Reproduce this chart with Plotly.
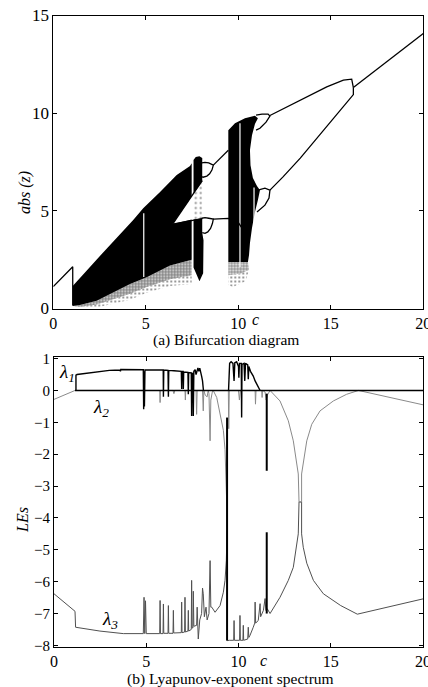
import plotly.graph_objects as go

# ---------------- Panel (a): bifurcation diagram ----------------
# initial period-1 branch and drop
init_c = [0.0, 1.05, 1.05]
init_y = [1.12, 2.14, 0.15]

# dense chaotic band 1 (outline)
chaos1_c = [1.05, 1.05, 2.52, 4.32, 4.86, 5.77, 6.67, 7.39, 7.48, 7.48, 6.45, 7.48, 7.48, 6.31, 5.05, 4.15, 2.35, 1.44, 1.05]
chaos1_y = [0.13, 1.15, 2.69, 4.53, 5.13, 5.97, 6.83, 7.30, 7.43, 5.73, 4.32, 4.55, 2.50, 2.20, 1.60, 1.25, 0.40, 0.18, 0.13]
strip_up_c = [7.58, 7.58, 7.70, 7.90, 8.05, 8.05]
strip_up_y = [5.87, 7.60, 7.75, 7.80, 7.70, 6.52]
strip_lo_c = [7.58, 8.05, 8.05, 8.12, 8.10, 7.90, 7.58]
strip_lo_y = [4.55, 4.62, 3.88, 3.50, 1.80, 1.40, 2.10]

# dense chaotic band 2 (outline)
chaos2_c = [9.46, 9.46, 9.82, 10.36, 10.90, 11.06, 10.90, 10.74, 10.63, 10.66, 10.79, 11.01, 11.17, 11.06, 10.90, 10.74, 10.63, 10.58, 10.52]
chaos2_y = [2.38, 9.13, 9.49, 9.74, 9.87, 9.74, 9.44, 8.87, 8.11, 7.34, 6.68, 6.27, 6.06, 5.55, 4.94, 4.12, 3.35, 2.74, 2.38]

# speckled fringes: inner (dense) and outer (sparse)
inner1_c = [1.05, 1.44, 2.35, 4.15, 5.05, 6.31, 7.48, 7.48, 6.31, 5.05, 4.15, 2.35, 1.44]
inner1_y = [0.13, 0.18, 0.40, 1.25, 1.60, 2.20, 2.50, 1.70, 1.50, 1.10, 0.75, 0.20, 0.08]
outer1_c = [1.44, 2.35, 4.15, 5.05, 6.31, 7.48, 7.48, 6.31, 5.05, 4.15, 2.35, 1.44]
outer1_y = [0.08, 0.20, 0.75, 1.10, 1.50, 1.70, 1.25, 1.15, 0.80, 0.45, 0.05, 0.02]
wedge_c = [7.58, 8.05, 8.05, 7.58]
wedge_y = [4.55, 4.62, 6.52, 5.87]
inner2_c = [9.46, 10.52, 10.58, 10.20, 9.46]
inner2_y = [2.38, 2.38, 2.00, 1.80, 1.70]
outer2_c = [9.46, 10.20, 10.58, 10.40, 9.70, 9.46]
outer2_y = [1.70, 1.80, 2.00, 1.40, 1.10, 1.20]

# periodic branches (segments separated by None)
branch_c = [6.45, 8.05, None,
            6.45, 8.05, None,
            8.02, 8.20, 8.40, 8.55, 8.65, 8.58, 8.45, 8.30, 8.10, 8.02, None,
            8.02, 8.20, 8.40, 8.55, 8.65, 8.60, 8.50, 8.35, 8.20, 8.05, None,
            8.65, 9.46, None,
            8.65, 9.46, 10.00, 10.54, None,
            10.96, 11.28, 11.61, 11.71, 11.50, 11.17, 10.96, None,
            11.06, 11.44, 11.71, 11.66, 11.44, 11.17, 11.01, None,
            11.71, 13.35, 14.78, 15.68, 16.13, 16.22, None,
            11.71, 12.43, 13.35, 14.24, 15.14, 15.86, 16.22, 16.22, None,
            16.22, 20.00]
branch_y = [4.32, 6.55, None,
            4.32, 4.60, None,
            7.45, 7.48, 7.45, 7.38, 7.34, 7.10, 6.90, 6.78, 6.72, 6.75, None,
            4.62, 4.65, 4.62, 4.60, 4.58, 4.35, 4.10, 3.92, 3.85, 3.88, None,
            7.34, 8.10, None,
            4.58, 4.61, 4.40, 3.64, None,
            9.90, 9.95, 9.95, 9.85, 9.54, 9.23, 9.13, None,
            6.06, 6.16, 6.06, 5.65, 5.29, 5.04, 4.94, None,
            9.88, 10.66, 11.35, 11.69, 11.74, 11.31, None,
            6.06, 6.75, 7.70, 8.70, 9.75, 10.50, 10.95, 11.31, None,
            11.31, 14.08]

# white gaps inside the chaotic bands
gap_c = [4.89, 10.09, 10.85]
gap_lo = [1.61, 2.12, 4.17]
gap_hi = [4.88, 9.48, 6.20]

# ---------------- Panel (b): Lyapunov exponents ----------------
zero_c = [1.14, 20.0]
zero_v = [0.0, 0.0]

l1_c = [1.19, 1.19, 1.25, 1.77, 2.49, 3.0, 3.58, 3.60, 3.62, 4.2, 4.84, 4.86, 4.88, 4.90, 4.93, 5.5, 5.92, 5.93, 5.95,
        6.18, 6.20, 6.22, 6.5, 6.9, 6.92, 6.94, 7.0, 7.01, 7.03, 7.26, 7.28, 7.30, 7.44, 7.46, 7.48, 7.53, 7.55, 7.58,
        7.65, 7.70, 7.80, 7.85, 7.90, 8.0, 8.05, 8.10, None,
        9.46, 9.48, 9.52, 9.6, 9.7, 9.76, 9.8, 9.9, 10.0, 10.02, 10.05, 10.15, 10.17, 10.19, 10.3, 10.34, 10.38,
        10.5, 10.53, 10.56, 10.65, 10.8, 10.9, 11.0, 11.17]
l1_v = [0.0, 0.48, 0.50, 0.54, 0.60, 0.63, 0.64, 0.60, 0.66, 0.65, 0.65, -0.59, 0.60, -0.50, 0.64, 0.64, 0.64, -0.20, 0.64,
        0.63, -0.20, 0.63, 0.62, 0.60, 0.05, 0.60, 0.60, 0.05, 0.58, 0.57, -0.12, 0.56, 0.55, -0.80, 0.50, 0.55, -0.80, 0.60,
        0.65, 0.50, 0.71, 0.60, 0.70, 0.45, 0.30, 0.0, None,
        0.0, 0.50, 0.85, 0.90, 0.85, 0.30, 0.87, 0.90, 0.75, 0.40, 0.85, 0.85, -0.85, 0.82, 0.85, 0.30, 0.85,
        0.80, 0.35, 0.75, 0.60, 0.45, 0.30, 0.20, 0.0]

l2_c = [0.0, 1.14, 4.85, 4.88, 4.91, 5.73, 5.75, 5.77, 6.45, 6.50, 6.55, 7.10, 7.12, 7.14, 7.70, 7.73, 7.76,
        8.05, 8.09, 8.12, 8.20, 8.30, 8.36, 8.40, 8.46, 8.50, 8.58, 8.63, 8.82, 9.0, 9.18, 9.27, 9.32, 9.36, 9.38, None,
        9.45, 9.47, 9.50, 10.0, 10.05, 10.1, 10.9, 10.92, 10.95, 11.26, 11.28, 11.30, 11.44, 11.50, 11.56, 11.71,
        12.25, 12.7, 12.97, 13.15, 13.24, 13.28, 13.42, 13.42, 13.51, 13.7, 13.97, 14.42, 15.14, 15.86, 16.5, 20.0]
l2_v = [-0.28, 0.0, 0.0, -0.45, 0.0, 0.0, -0.38, 0.0, 0.0, -0.10, 0.0, 0.0, -0.30, 0.0, 0.0, -0.75, 0.0,
        0.0, -0.64, 0.0, -0.15, -0.20, 0.0, -0.10, -1.58, -0.30, -0.05, 0.0, -0.22, -0.70, -1.25, -1.85, -2.5, -3.5, -4.4, None,
        0.0, -1.20, 0.0, 0.0, -0.30, 0.0, 0.0, -0.43, 0.0, 0.0, -0.22, 0.0, -0.05, -0.30, -0.15, 0.0,
        -0.33, -0.95, -1.58, -2.31, -2.62, -3.5, -3.5, -2.62, -2.31, -1.58, -1.06, -0.64, -0.33, -0.12, 0.0, -0.45]

l3_c = [0.0, 1.14, 1.17, 2.49, 3.76, 4.84, 4.88, 4.92, 4.96, 5.0, 5.73, 5.75, 5.77, 5.91, 5.93, 5.95, 6.18, 6.20, 6.22,
        6.45, 6.47, 6.49, 6.9, 6.92, 6.94, 7.08, 7.10, 7.12, 7.26, 7.28, 7.30, 7.44, 7.46, 7.48, 7.53, 7.55, 7.58, 7.73,
        7.76, 7.80, 7.82, 7.90, 8.0, 8.05, 8.09, 8.15, 8.24, 8.30, 8.40, 8.46, 8.50, 8.55, 8.73, 9.0, 9.18, 9.27, 9.34, 9.38, None,
        9.40, 9.5, 9.74, 9.76, 9.78, 10.06, 10.08, 10.1, 10.24, 10.26, 10.28, 10.5, 10.53, 10.56, 10.62, 10.8, 10.88, 10.9,
        10.93, 11.07, 11.17, 11.2, 11.35, 11.44, 11.48, 11.56, 11.71, 12.25, 12.7, 12.97, 13.15, 13.24, 13.28, 13.42, 13.42,
        13.51, 13.7, 14.06, 14.6, 15.54, 16.44, 20.0]
l3_v = [-6.38, -6.93, -7.43, -7.55, -7.63, -7.63, -6.49, -7.63, -6.60, -7.63, -7.63, -6.59, -7.63, -7.63, -6.70, -7.62, -7.62, -6.75, -7.62,
        -7.62, -6.90, -7.61, -7.60, -6.64, -7.60, -7.58, -6.49, -7.58, -7.55, -6.90, -7.55, -7.50, -5.96, -7.45, -7.45, -6.30, -7.40, -7.37,
        -6.80, -7.30, -7.80, -7.20, -7.00, -6.20, -6.38, -7.10, -6.80, -7.20, -7.00, -5.34, -6.80, -6.80, -6.96, -6.75, -6.33, -5.96, -5.34, -4.4, None,
        -7.85, -7.84, -7.84, -7.22, -7.84, -7.84, -7.06, -7.84, -7.84, -7.37, -7.84, -7.80, -7.43, -7.75, -7.69, -7.43, -7.30, -6.64,
        -7.30, -7.22, -6.69, -7.10, -6.90, -6.53, -6.90, -6.85, -7.00, -6.49, -5.96, -5.55, -4.92, -4.50, -3.5, -3.5, -4.50,
        -4.92, -5.42, -5.96, -6.38, -6.75, -7.02, -6.54]

# near-vertical plunges (superstable points)
plunge_c = [9.38, 11.53, 11.53]
plunge_lo = [-7.85, -2.52, -7.00]
plunge_hi = [-0.85, -0.10, -4.45]

# tick labels
x_ticks = [0, 5, 10, 15, 20]
ya_ticks = [0, 5, 10, 15]
yb_ticks = [1, 0, -1, -2, -3, -4, -5, -6, -7, -8]

FONT = "Liberation Serif, Times New Roman, serif"

fig = go.Figure()

def poly(cs, ys, xa, ya, pattern=None):
    kw = dict(x=cs, y=ys, xaxis=xa, yaxis=ya, fill="toself", mode="none",
              showlegend=False, hoverinfo="skip")
    if pattern is None:
        kw["fillcolor"] = "black"
    else:
        kw["fillcolor"] = "rgba(0,0,0,0)"
        kw["fillpattern"] = dict(shape=".", fgcolor="black", bgcolor="rgba(0,0,0,0)",
                                 size=pattern[0], solidity=pattern[1])
    fig.add_trace(go.Scatter(**kw))

# speckle regions
poly(outer1_c, outer1_y, "x", "y", pattern=(4, 0.22))
poly(inner1_c, inner1_y, "x", "y", pattern=(3, 0.7))
poly(wedge_c, wedge_y, "x", "y", pattern=(5, 0.15))
poly(outer2_c, outer2_y, "x", "y", pattern=(4, 0.22))
poly(inner2_c, inner2_y, "x", "y", pattern=(3, 0.6))
# dense regions
poly(chaos1_c, chaos1_y, "x", "y")
poly(strip_up_c, strip_up_y, "x", "y")
poly(strip_lo_c, strip_lo_y, "x", "y")
poly(chaos2_c, chaos2_y, "x", "y")

# white gaps
gx, gy = [], []
for c, lo, hi in zip(gap_c, gap_lo, gap_hi):
    gx += [c, c, None]
    gy += [lo, hi, None]
fig.add_trace(go.Scatter(x=gx, y=gy, xaxis="x", yaxis="y", mode="lines",
                         line=dict(color="white", width=1.2), showlegend=False, hoverinfo="skip"))

# branches
fig.add_trace(go.Scatter(x=init_c, y=init_y, xaxis="x", yaxis="y", mode="lines",
                         line=dict(color="black", width=1.3), showlegend=False))
fig.add_trace(go.Scatter(x=branch_c, y=branch_y, xaxis="x", yaxis="y", mode="lines",
                         line=dict(color="black", width=1.3), showlegend=False))

# ---- panel b traces
fig.add_trace(go.Scatter(x=l3_c, y=l3_v, xaxis="x2", yaxis="y2", mode="lines",
                         line=dict(color="#505050", width=1), showlegend=False, name="λ3"))
fig.add_trace(go.Scatter(x=l2_c, y=l2_v, xaxis="x2", yaxis="y2", mode="lines",
                         line=dict(color="#8a8a8a", width=1), showlegend=False, name="λ2"))
px_, py_ = [], []
for c, lo, hi in zip(plunge_c, plunge_lo, plunge_hi):
    px_ += [c, c, None]
    py_ += [lo, hi, None]
fig.add_trace(go.Scatter(x=px_, y=py_, xaxis="x2", yaxis="y2", mode="lines",
                         line=dict(color="black", width=2), showlegend=False))
fig.add_trace(go.Scatter(x=zero_c, y=zero_v, xaxis="x2", yaxis="y2", mode="lines",
                         line=dict(color="black", width=1.6), showlegend=False))
fig.add_trace(go.Scatter(x=l1_c, y=l1_v, xaxis="x2", yaxis="y2", mode="lines",
                         line=dict(color="black", width=1.4), showlegend=False, name="λ1"))

W, H = 428, 687

def axis(size, **kw):
    d = dict(showline=True, linecolor="black", linewidth=1, mirror="ticks",
             ticks="inside", ticklen=4, tickcolor="black", showgrid=False, zeroline=False,
             automargin=False, ticklabeloverflow="allow",
             tickfont=dict(family=FONT, size=size, color="black"))
    d.update(kw)
    return d

fig.update_layout(
    width=W, height=H, margin=dict(l=0, r=0, t=0, b=0, autoexpand=False),
    paper_bgcolor="white", plot_bgcolor="white",
    xaxis=axis(16, domain=[53.3 / W, 423.3 / W], range=[0, 20], tickvals=x_ticks, anchor="y"),
    yaxis=axis(17, domain=[1 - 308.5 / H, 1 - 15.5 / H], range=[0, 15], tickvals=ya_ticks, anchor="x"),
    xaxis2=axis(16, domain=[54 / W, 423 / W], range=[0, 20], tickvals=x_ticks, anchor="y2"),
    yaxis2=axis(15, domain=[1 - 647 / H, 1 - 357 / H], range=[-8.05, 1.05], tickvals=yb_ticks, anchor="x2"),
)

def ann(text, x, y, size=16, angle=0, italic=False):
    if italic:
        text = "<i>" + text + "</i>"
    fig.add_annotation(text=text, x=x / W, y=1 - y / H, xref="paper", yref="paper",
                       showarrow=False, textangle=angle, xanchor="center", yanchor="middle",
                       font=dict(family=FONT, size=size, color="black"))

ann("abs (z)", 25, 193, 16, -90, italic=True)
ann("c", 256, 319, 16, italic=True)
ann("(a) Bifurcation diagram", 226, 339.5, 15.5)
ann("LEs", 22, 520, 16, -90, italic=True)
ann("c", 263, 660, 16, italic=True)
ann("(b) Lyapunov-exponent spectrum", 230, 679, 15.5)

# exponent labels (placed in data coordinates)
for txt, cx, cy in [("λ<sub>1</sub>", 0.70, 0.55), ("λ<sub>2</sub>", 2.55, -0.55), ("λ<sub>3</sub>", 3.05, -7.2)]:
    fig.add_annotation(text="<i>" + txt + "</i>", x=cx, y=cy, xref="x2", yref="y2", showarrow=False,
                       font=dict(family=FONT, size=19, color="black"))

fig.write_html("out.html", config={"displayModeBar": False},
               post_script="document.body.style.margin='0';document.body.style.padding='0';")
